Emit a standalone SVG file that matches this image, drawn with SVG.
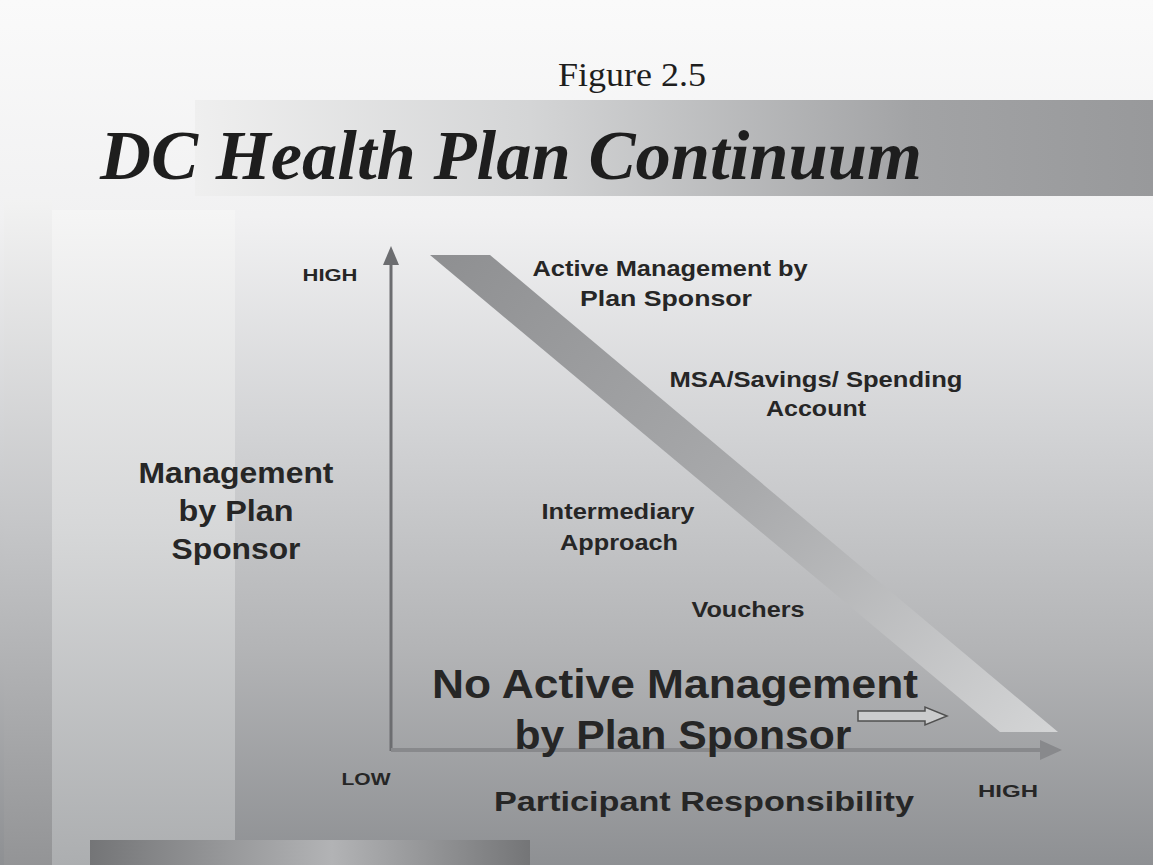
<svg xmlns="http://www.w3.org/2000/svg" width="1153" height="865" viewBox="0 0 1153 865">
<defs>
<linearGradient id="bg" x1="0" y1="0" x2="0" y2="865" gradientUnits="userSpaceOnUse">
<stop offset="0" stop-color="#fafafa"/>
<stop offset="0.25" stop-color="#f1f1f2"/>
<stop offset="0.5" stop-color="#d2d3d5"/>
<stop offset="0.75" stop-color="#b3b4b6"/>
<stop offset="1" stop-color="#8e9093"/>
</linearGradient>
<linearGradient id="band" x1="0" y1="200" x2="0" y2="865" gradientUnits="userSpaceOnUse">
<stop offset="0" stop-color="#f6f6f6"/>
<stop offset="0.5" stop-color="#d6d7d8"/>
<stop offset="1" stop-color="#acaeb0"/>
</linearGradient>
<linearGradient id="strip" x1="0" y1="200" x2="0" y2="865" gradientUnits="userSpaceOnUse">
<stop offset="0" stop-color="#f2f2f2"/>
<stop offset="0.5" stop-color="#c4c5c7"/>
<stop offset="1" stop-color="#939496"/>
</linearGradient>
<linearGradient id="banner" x1="195" y1="0" x2="1153" y2="0" gradientUnits="userSpaceOnUse">
<stop offset="0" stop-color="#efefef"/>
<stop offset="0.35" stop-color="#d4d5d6"/>
<stop offset="0.75" stop-color="#a2a3a5"/>
<stop offset="1" stop-color="#98999b"/>
</linearGradient>
<linearGradient id="diag" x1="430" y1="255" x2="1060" y2="732" gradientUnits="userSpaceOnUse">
<stop offset="0" stop-color="#8e8f91"/>
<stop offset="0.5" stop-color="#a9aaac"/>
<stop offset="1" stop-color="#d4d5d6"/>
</linearGradient>
<linearGradient id="bar" x1="90" y1="0" x2="530" y2="0" gradientUnits="userSpaceOnUse">
<stop offset="0" stop-color="#747577"/>
<stop offset="0.55" stop-color="#b2b3b5"/>
<stop offset="1" stop-color="#747577"/>
</linearGradient>
<style>
.s{font-family:"Liberation Sans",Arial,sans-serif;font-weight:bold;fill:#262626;text-anchor:middle}
.t{font-family:"Liberation Serif","Times New Roman",serif;fill:#1e1e1e}
</style>
</defs>
<g id="background">
<rect x="0" y="0" width="1153" height="865" fill="url(#bg)"/>
<rect x="4" y="200" width="48" height="665" fill="url(#strip)"/>
<rect x="52" y="210" width="183" height="655" fill="url(#band)"/>
<rect x="195" y="100" width="958" height="96" fill="url(#banner)"/>
<rect x="90" y="840" width="440" height="25" fill="url(#bar)"/>
</g>
<g id="title">
<text class="t" x="632" y="86" font-size="34" text-anchor="middle" textLength="148" lengthAdjust="spacingAndGlyphs">Figure 2.5</text>
<text class="t" x="100" y="179" font-size="70" font-weight="bold" font-style="italic" textLength="822" lengthAdjust="spacingAndGlyphs">DC Health Plan Continuum</text>
</g>
<g id="continuum-band">
<polygon points="430,255 490,255 1058,732 1000,732" fill="url(#diag)"/>
</g>
<g id="connectors">
<line x1="391" y1="262" x2="391" y2="751" stroke="#6c6d70" stroke-width="3"/>
<polygon points="391,246 383,265 399,265" fill="#6c6d70"/>
<line x1="391" y1="750" x2="1042" y2="750" stroke="#88898c" stroke-width="4"/>
<polygon points="1062,750 1040,740 1040,760" fill="#88898c"/>
<polygon points="858,711 925,711 925,707 947,716 925,725 925,721 858,721" fill="#cbcccd" stroke="#505050" stroke-width="1.5"/>
</g>
<g id="labels">
<text class="s" x="330" y="281" font-size="17" textLength="55" lengthAdjust="spacingAndGlyphs">HIGH</text>
<text class="s" x="366" y="785" font-size="17" textLength="49" lengthAdjust="spacingAndGlyphs">LOW</text>
<text class="s" x="1008" y="797" font-size="17" textLength="60" lengthAdjust="spacingAndGlyphs">HIGH</text>
<text class="s" x="670" y="276" font-size="22" textLength="275" lengthAdjust="spacingAndGlyphs">Active Management by</text>
<text class="s" x="666" y="306" font-size="22" textLength="172" lengthAdjust="spacingAndGlyphs">Plan Sponsor</text>
<text class="s" x="816" y="387" font-size="22" textLength="293" lengthAdjust="spacingAndGlyphs">MSA/Savings/ Spending</text>
<text class="s" x="816" y="416" font-size="22" textLength="100" lengthAdjust="spacingAndGlyphs">Account</text>
<text class="s" x="236" y="483" font-size="29" textLength="195" lengthAdjust="spacingAndGlyphs">Management</text>
<text class="s" x="236" y="521" font-size="29" textLength="115" lengthAdjust="spacingAndGlyphs">by Plan</text>
<text class="s" x="236" y="559" font-size="29" textLength="129" lengthAdjust="spacingAndGlyphs">Sponsor</text>
<text class="s" x="618" y="519" font-size="22" textLength="153" lengthAdjust="spacingAndGlyphs">Intermediary</text>
<text class="s" x="619" y="550" font-size="22" textLength="118" lengthAdjust="spacingAndGlyphs">Approach</text>
<text class="s" x="748" y="617" font-size="22" textLength="113" lengthAdjust="spacingAndGlyphs">Vouchers</text>
<text class="s" x="675" y="698" font-size="40" textLength="486" lengthAdjust="spacingAndGlyphs">No Active Management</text>
<text class="s" x="683" y="749" font-size="40" textLength="337" lengthAdjust="spacingAndGlyphs">by Plan Sponsor</text>
<text class="s" x="704" y="811" font-size="27" textLength="420" lengthAdjust="spacingAndGlyphs">Participant Responsibility</text>
</g>
</svg>
